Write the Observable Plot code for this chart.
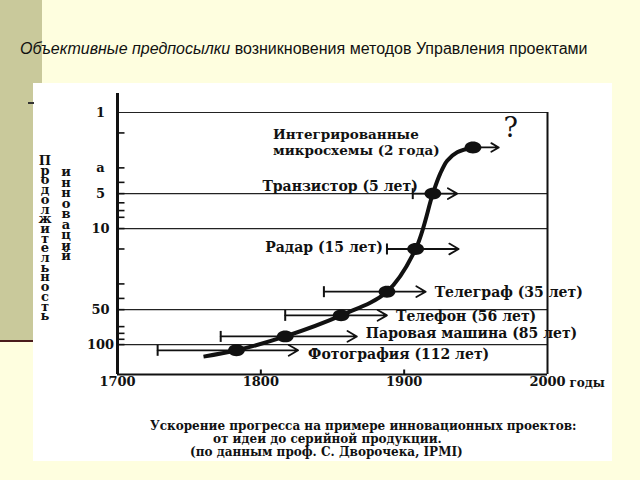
<!DOCTYPE html>
<html>
<head>
<meta charset="utf-8">
<script src="https://cdn.jsdelivr.net/npm/d3@7"></script>
<script src="https://cdn.jsdelivr.net/npm/@observablehq/plot@0.6"></script>
<style>
  html, body { margin: 0; padding: 0; }
  body { width: 640px; height: 480px; position: relative; overflow: hidden; background: #fefedf; }
  #band { position: absolute; left: 0; top: 0; width: 42px; height: 340px; background: #c9c99b; }
  #bandline { position: absolute; left: 0; top: 340px; width: 33px; height: 2px; background: #4a1c1c; }
  #dash { position: absolute; left: 28px; top: 102px; width: 6px; height: 2px; background: #333; }
  #scan { position: absolute; left: 33px; top: 83px; width: 579px; height: 378px; background: #ffffff; }
  #title { position: absolute; left: 20px; top: 40px; font: 16px "Liberation Sans", Arial, sans-serif; color: #111; white-space: nowrap; }
  #chart { position: absolute; left: 0; top: 0; }
  .vlab { position: absolute; font: bold 13px "DejaVu Serif", serif; color: #111; text-align: center; white-space: pre-line; width: 20px; }
  .cap { position: absolute; font: bold 12px "DejaVu Serif", serif; color: #111; white-space: nowrap; line-height: 12px; }
</style>
</head>
<body>
<div id="band"></div>
<div id="bandline"></div>
<div id="title"><i>Объективные предпосылки</i> возникновения методов Управления проектами</div>
<div id="scan"></div>
<div id="dash"></div>
<div id="chart"></div>
<div class="vlab" id="ylab1" style="left:35px; top:156px; line-height:9.7px;"></div>
<div class="vlab" id="ylab2" style="left:56px; top:167px; line-height:10.5px;"></div>
<div class="cap" style="left:150px; top:420px;">Ускорение прогресса на примере инновационных проектов:</div>
<div class="cap" style="left:213px; top:433px;">от идеи до серийной продукции.</div>
<div class="cap" style="left:190px; top:446px;">(по данным проф. С. Дворочека, IPMI)</div>
<script>
// ---- data ----
const innovations = ["Фотография (112 лет)", "Паровая машина (85 лет)", "Телефон (56 лет)", "Телеграф (35 лет)", "Радар (15 лет)", "Транзистор (5 лет)", "Интегрированные\nмикросхемы (2 года)"];
const durations = [112, 85, 56, 35, 15, 5, 2];
const startYears = [1728, 1772, 1817, 1844, 1888, 1906, 1948];
const midYears = [1783, 1817, 1856, 1888, 1908, 1920, 1948];
const endYears = [1826, 1867, 1888, 1915, 1938, 1937, 1966];
const trendYears = [1760, 1783, 1817, 1856, 1888, 1908, 1920, 1925, 1930, 1937, 1948];
const trendDurations = [127, 112, 85, 56, 35, 15, 5, 3.4, 2.6, 2.2, 2];
const gridValues = [1, 5, 10, 50, 100];
const yTickValues = [1.5, 3, 4, 5, 6, 7, 8, 10, 15, 30, 40, 50, 70, 80, 90, 100];
const yLabelValues = [1, 3, 5, 10, 50, 100];
const yLabelTexts = ["1", "a", "5", "10", "50", "100"];
const xTickLabels = [1700, 1800, 1900, 2000];
const xTickMarks = [1800, 1900];
const xUnit = "годы";
const yTitle1 = "Продолжительность";
const yTitle2 = "инноваций";

document.getElementById("ylab1").textContent = Array.from(yTitle1).join("\n");
document.getElementById("ylab2").textContent = Array.from(yTitle2).join("\n");

const yDomain = [0.686, 181];
const idx = d3.range(durations.length);
const ink = "#111";

// custom symbols
const tickRight = { draw(ctx, size) { const r = Math.sqrt(size / Math.PI); ctx.moveTo(0, 0); ctx.lineTo(r, 0); } };
const tickUp = { draw(ctx, size) { const r = Math.sqrt(size / Math.PI); ctx.moveTo(0, 0); ctx.lineTo(0, -r); } };
const capSym = { draw(ctx, size) { const r = Math.sqrt(size / Math.PI); ctx.moveTo(0, -r); ctx.lineTo(0, r); } };
const ellipseSym = { draw(ctx, size) {
  const r = Math.sqrt(size / Math.PI), a = r * 1.2, b = r * 0.85, k = 0.5523;
  ctx.moveTo(a, 0);
  ctx.bezierCurveTo(a, b * k, a * k, b, 0, b);
  ctx.bezierCurveTo(-a * k, b, -a, b * k, -a, 0);
  ctx.bezierCurveTo(-a, -b * k, -a * k, -b, 0, -b);
  ctx.bezierCurveTo(a * k, -b, a, -b * k, a, 0);
  ctx.closePath();
} };

const labelFont = { fontFamily: "DejaVu Serif, serif", fontWeight: "bold", fontSize: 14, fill: ink };

const chart = Plot.plot({
  width: 640,
  height: 480,
  marginLeft: 117,
  marginRight: 93,
  marginTop: 93,
  marginBottom: 106,
  x: { domain: [1700, 2000], axis: null },
  y: { type: "log", domain: yDomain, reverse: true, axis: null },
  style: { background: "transparent", fontFamily: "DejaVu Serif, serif", fontWeight: "bold", fontSize: "13px", color: ink, overflow: "visible" },
  marks: [
    Plot.ruleY(gridValues, { stroke: "#222", strokeWidth: 1.2 }),
    Plot.ruleX([2000], { y1: gridValues[0], y2: yDomain[1], stroke: ink, strokeWidth: 2 }),
    Plot.ruleX([1700], { stroke: ink, strokeWidth: 3 }),
    Plot.ruleY([yDomain[1]], { stroke: ink, strokeWidth: 2.2 }),
    Plot.dot(yTickValues, { y: d => d, frameAnchor: "left", symbol: tickRight, r: 7, stroke: ink, strokeWidth: 1.6, fill: "none" }),
    Plot.dot(xTickMarks, { x: d => d, frameAnchor: "bottom", symbol: tickUp, r: 5, stroke: ink, strokeWidth: 2, fill: "none" }),
    Plot.text(yLabelValues, { y: d => d, frameAnchor: "left", dx: -17, textAnchor: "middle", text: (d, i) => yLabelTexts[i], ...labelFont, fontSize: 13 }),
    Plot.text(xTickLabels, { x: d => d, frameAnchor: "bottom", dy: 11, text: d => String(d), ...labelFont, fontSize: 13 }),
    Plot.text([xUnit], { x: xTickLabels[xTickLabels.length - 1], frameAnchor: "bottom", dx: 22, dy: 12, textAnchor: "start", text: d => d, ...labelFont, fontSize: 12 }),
    // interval arrows
    Plot.arrow(idx, { x1: i => startYears[i], x2: i => endYears[i], y1: i => durations[i], y2: i => durations[i], stroke: ink, strokeWidth: 1.8, headLength: 9, headAngle: 60 }),
    Plot.dot(idx.filter(i => startYears[i] < midYears[i]), { x: i => startYears[i], y: i => durations[i], symbol: capSym, r: 5.5, stroke: ink, strokeWidth: 2, fill: "none" }),
    // trend curve
    Plot.line(trendYears.map((y, i) => ({ year: y, dur: trendDurations[i] })), { x: "year", y: "dur", curve: "catmull-rom", stroke: ink, strokeWidth: 4, strokeLinecap: "butt" }),
    Plot.dot(idx, { x: i => midYears[i], y: i => durations[i], symbol: ellipseSym, r: 7, fill: ink, stroke: "none" }),
    // labels
    Plot.text([0], { x: i => endYears[i], y: i => durations[i], text: i => innovations[i], textAnchor: "start", dx: 10, dy: 4, ...labelFont }),
    Plot.text([1], { x: i => endYears[i], y: i => durations[i], text: i => innovations[i], textAnchor: "start", dx: 9, dy: -3, ...labelFont }),
    Plot.text([2, 3], { x: i => endYears[i], y: i => durations[i], text: i => innovations[i], textAnchor: "start", dx: 9, dy: 1, ...labelFont }),
    Plot.text([4], { x: i => startYears[i], y: i => durations[i], text: i => innovations[i], textAnchor: "end", dx: -4, dy: -1, ...labelFont }),
    Plot.text([5], { x: i => startYears[i], y: i => durations[i], text: i => innovations[i], textAnchor: "end", dx: 5, dy: -7, ...labelFont }),
    Plot.text([6], { x: i => startYears[i], y: i => durations[i], text: i => innovations[i], textAnchor: "start", dx: -200, dy: -6, lineHeight: 1.2, ...labelFont, fontSize: 13.5 }),
    Plot.text([6], { x: i => endYears[i], y: i => durations[i], text: () => "?", textAnchor: "middle", dx: 12, dy: -19, fontFamily: "DejaVu Serif, serif", fontWeight: "normal", fontSize: 27, fill: ink })
  ]
});
document.getElementById("chart").appendChild(chart);
</script>
</body>
</html>
